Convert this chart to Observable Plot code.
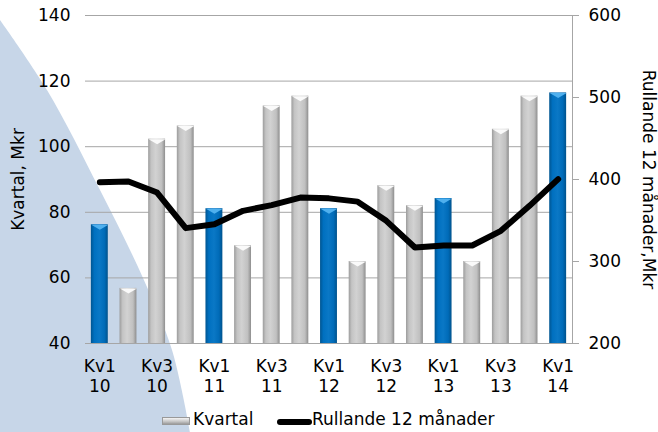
<!DOCTYPE html>
<html><head><meta charset="utf-8">
<script src="https://cdn.jsdelivr.net/npm/d3@7"></script>
<script src="https://cdn.jsdelivr.net/npm/@observablehq/plot@0.6"></script>
<style>
body{margin:0;background:#fff;font-family:"DejaVu Sans",sans-serif;}
#wrap{position:relative;width:658px;height:432px;overflow:hidden;}
#bg{position:absolute;left:0;top:0;}
#chart{position:absolute;left:0;top:0;}
#legend{position:absolute;top:404px;left:0;width:658px;height:28px;font-size:17px;color:#000;}
.sw{position:absolute;}
.lt{position:absolute;top:5px;line-height:20px;}
</style></head><body>
<div id="wrap">
<svg id="bg" width="658" height="432"></svg>
<div id="chart"></div>
<div id="legend">
  <div class="sw" style="left:162px;top:13px;width:28px;height:8px;background:linear-gradient(#f4f4f4,#c4c4c4 60%,#9a9a9a);border:1px solid #999;box-sizing:border-box;"></div>
  <div class="lt" style="left:193px;">Kvartal</div>
  <div class="sw" style="left:277px;top:15px;width:35px;height:6px;background:#000;border-radius:3px;"></div>
  <div class="lt" style="left:312px;">Rullande 12 månader</div>
</div>
</div>
<script>
const quarters = ["Kv1 10","Kv2 10","Kv3 10","Kv4 10","Kv1 11","Kv2 11","Kv3 11","Kv4 11","Kv1 12","Kv2 12","Kv3 12","Kv4 12","Kv1 13","Kv2 13","Kv3 13","Kv4 13","Kv1 14"];
const kvartal = [76.2,56.8,102.3,106.3,81.1,69.8,112.4,115.4,81.1,65.0,88.1,82.0,84.2,65.0,105.3,115.4,116.4];
const rullande = [396.7,397.6,384.1,340.7,345.5,361.8,368.7,378,377,373,349.6,317,319.5,319.5,337.4,367.9,400.4];
const leftTicks = [40,60,80,100,120,140];
const rightTicks = [200,300,400,500,600];
const xTickLabels = quarters.filter((q,i)=>i%2===0);

// decorative background wedge
const wedge = [[0,20],[47,90],[100,190],[143,278],[172,350],[190,432]];
const bgPath = d3.line().curve(d3.curveCatmullRom)(wedge) + "L0,432Z";
d3.select("#bg").append("path").attr("d", bgPath).attr("fill", "#c7d6e8");

const data = quarters.map((q,i)=>({q, v:kvartal[i], r:rullande[i], kv1:q.startsWith("Kv1")}));
const toLeft = r => 40 + (r-200)/4;

const cap = {draw(ctx){ctx.moveTo(-8.5,0);ctx.lineTo(8.5,0);ctx.lineTo(0,5);ctx.closePath();}};

const svg = Plot.plot({
  width:658, height:404, marginTop:15, marginBottom:61, marginLeft:85, marginRight:86,
  style:{fontFamily:"DejaVu Sans", fontSize:"17px", background:"transparent", color:"#000"},
  x:{type:"band", domain:quarters, paddingInner:0.41, paddingOuter:0.205, align:0.5, round:false, axis:null},
  y:{domain:[40,140], axis:null},
  marks:[
    Plot.ruleY(leftTicks, {stroke:"#a6a6a6", strokeWidth:1}),
    Plot.frame({anchor:"right", stroke:"#a6a6a6"}),
    Plot.axisY(leftTicks, {anchor:"left", tickSize:0, tickPadding:15, label:null}),
    Plot.axisY(rightTicks.map(toLeft), {anchor:"right", tickSize:6, tickPadding:10, stroke:"#a6a6a6", tickFormat:d=>String(Math.round(200+(d-40)*4)), label:null}),
    Plot.axisX(xTickLabels, {anchor:"bottom", tickSize:0, tickPadding:14, lineHeight:1.18, tickFormat:d=>d.replace(" ","\n"), label:null}),
    Plot.barY(data.filter(d=>!d.kv1), {x:"q", y1:40, y2:"v", fill:"url(#gGray)"}),
    Plot.barY(data.filter(d=>d.kv1), {x:"q", y1:40, y2:"v", fill:"url(#gBlue)"}),
    Plot.dot(data.filter(d=>!d.kv1), {x:"q", y:"v", symbol:cap, fill:"#fafafa", stroke:"none"}),
    Plot.dot(data.filter(d=>d.kv1), {x:"q", y:"v", symbol:cap, fill:"#4fb0ee", stroke:"none"}),
    Plot.line(data, {x:"q", y:d=>toLeft(d.r), stroke:"#000", strokeWidth:6, strokeLinejoin:"round", strokeLinecap:"round"}),
    Plot.text(["Kvartal, Mkr"], {frameAnchor:"left", rotate:-90, dx:-67, textAnchor:"middle", fontSize:17}),
    Plot.text(["Rullande 12 månader,Mkr"], {frameAnchor:"right", rotate:90, dx:76, textAnchor:"middle", fontSize:17})
  ]
});

const defs = d3.select(svg).insert("defs", ":first-child");
function grad(id, stops){
  const g = defs.append("linearGradient").attr("id", id).attr("x1","0").attr("x2","1").attr("y1","0").attr("y2","0");
  stops.forEach(([o,c])=>g.append("stop").attr("offset",o).attr("stop-color",c));
}
grad("gGray", [[0,"#9c9c9c"],[0.18,"#c4c4c4"],[0.45,"#d2d2d2"],[0.8,"#c0c0c0"],[1,"#8e8e8e"]]);
grad("gBlue", [[0,"#005591"],[0.2,"#0070c0"],[0.5,"#0a78c6"],[0.8,"#006bb8"],[1,"#00528c"]]);

document.getElementById("chart").appendChild(svg);
</script>
</body></html>
